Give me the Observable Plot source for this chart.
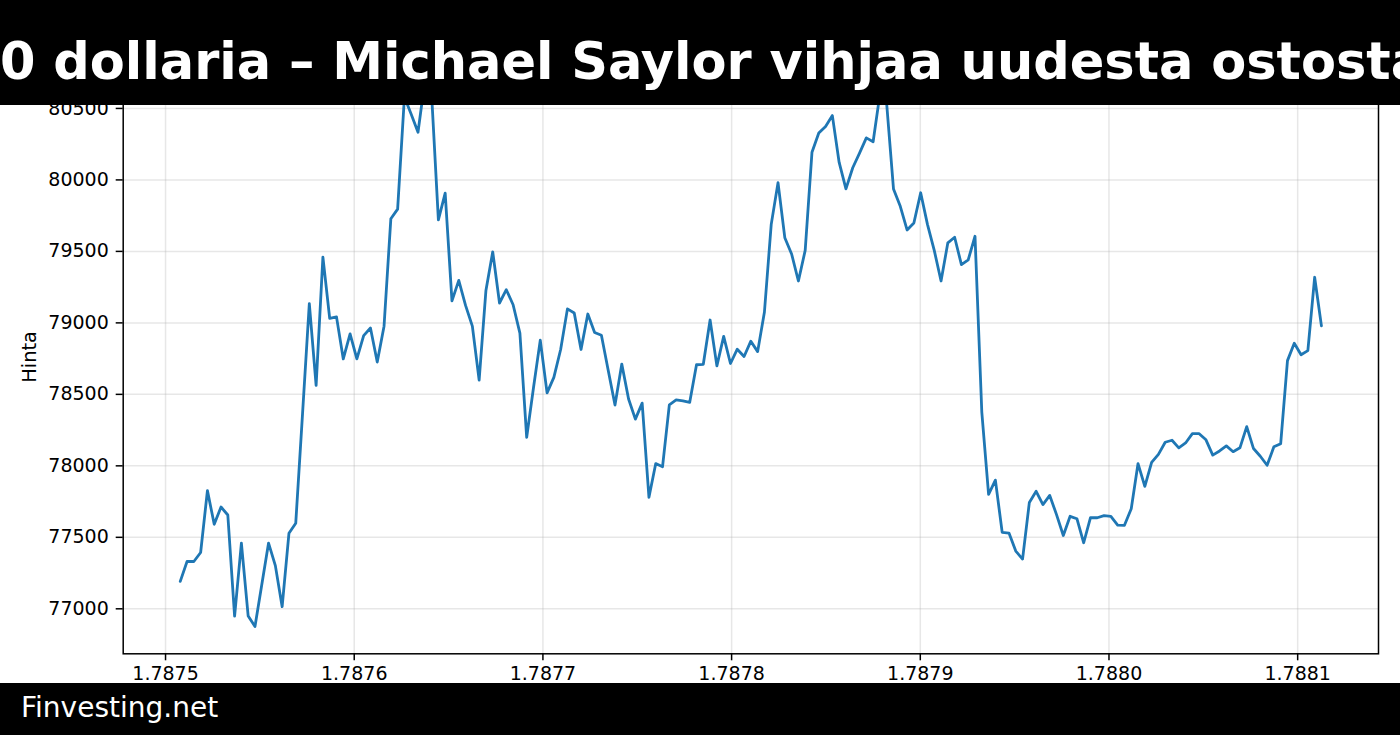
<!DOCTYPE html>
<html>
<head>
<meta charset="utf-8">
<script src="https://cdn.jsdelivr.net/npm/d3@7"></script>
<script src="https://cdn.jsdelivr.net/npm/@observablehq/plot@0.6"></script>
<style>
html, body { margin: 0; padding: 0; background: #fff; }
#wrap { position: relative; width: 1400px; height: 735px; overflow: hidden; background: #fff; font-family: "DejaVu Sans", sans-serif; }
#chart { position: absolute; left: 0; top: 0; }
#title { position: absolute; left: 0; top: 0; width: 1400px; height: 105px; background: #000; overflow: hidden; }
#title span { position: absolute; left: 0; top: 36px; white-space: nowrap; color: #fff; font-weight: bold; font-size: 51px; line-height: 1; }
#footer { position: absolute; left: 0; top: 683px; width: 1400px; height: 52px; background: #000; overflow: hidden; }
#footer span { position: absolute; left: 21px; top: 11px; white-space: nowrap; color: #fff; font-size: 28px; line-height: 1; }
</style>
</head>
<body>
<div id="wrap">
  <div id="chart"></div>
  <div id="title"><span id="titleText"></span></div>
  <div id="footer"><span id="footerText"></span></div>
</div>
<script>
const titleText = "0 dollaria – Michael Saylor vihjaa uudesta ostosta";
const footerText = "Finvesting.net";
const yLabel = "Hinta";

// hourly timestamps (seconds), first sample and step
const startTime = 1787507800;
const stepSeconds = 3600;

const prices = [
  77192, 77331, 77331, 77394, 77827, 77591, 77712, 77656, 76949, 77460,
  76949, 76876, 77168, 77460, 77302, 77015, 77528, 77598, 78364, 79135,
  78563, 79460, 79032, 79042, 78748, 78923, 78748, 78911, 78964, 78726,
  78977, 79728, 79796, 80580, 80460, 80333, 80690, 80600, 79720, 79908,
  79154, 79297, 79122, 78977, 78600, 79227, 79497, 79139, 79232, 79127,
  78928, 78199, 78546, 78879, 78510, 78619, 78814, 79098, 79069, 78814,
  79062, 78933, 78913, 78668, 78425, 78712, 78468, 78327, 78439, 77780,
  78016, 77994, 78427, 78461, 78454, 78444, 78707, 78710, 79020, 78699,
  78906, 78716, 78816, 78765, 78872, 78799, 79076, 79689, 79981, 79596,
  79482, 79293, 79507, 80194, 80328, 80374, 80450, 80122, 79937, 80085,
  80187, 80294, 80267, 80600, 80530, 79937, 79815, 79650, 79699, 79910,
  79689, 79507, 79293, 79560, 79599, 79407, 79441, 79606, 78376, 77800,
  77900, 77535, 77530, 77404, 77348, 77744, 77822, 77729, 77793, 77659,
  77513, 77647, 77630, 77462, 77637, 77637, 77652, 77647, 77586, 77584,
  77700, 78016, 77856, 78024, 78080, 78165, 78179, 78126, 78160, 78225,
  78225, 78182, 78075, 78104, 78140, 78099, 78126, 78274, 78121, 78067,
  78004, 78133, 78155, 78736, 78857, 78777, 78806, 79319, 78979
];

const xTicks = [1787500000, 1787600000, 1787700000, 1787800000, 1787900000, 1788000000, 1788100000];
const yTicks = [77000, 77500, 78000, 78500, 79000, 79500, 80000, 80500];

document.getElementById("titleText").textContent = titleText;
document.getElementById("footerText").textContent = footerText;

const data = prices.map((p, i) => ({t: startTime + i * stepSeconds, p}));
const [t0, t1] = d3.extent(data, d => d.t);
const [p0, p1] = d3.extent(prices);
const padX = (t1 - t0) * 0.05, padY = (p1 - p0) * 0.05;

const gridStyle = {stroke: "#b0b0b0", strokeOpacity: 0.3, strokeWidth: 1.5};

const chart = Plot.plot({
  width: 1400,
  height: 735,
  marginLeft: 122.7,
  marginRight: 22,
  marginTop: 53.5,
  marginBottom: 81.7,
  style: {fontFamily: "DejaVu Sans, sans-serif", fontSize: "19px", color: "#000", background: "transparent"},
  x: {domain: [t0 - padX, t1 + padX]},
  y: {domain: [p0 - padY, p1 + padY]},
  marks: [
    Plot.gridX(xTicks, gridStyle),
    Plot.gridY(yTicks, gridStyle),
    Plot.line(data, {x: "t", y: "p", stroke: "#1f77b4", strokeWidth: 2.8}),
    Plot.frame({stroke: "#000", strokeWidth: 1.5}),
    Plot.axisX(xTicks, {tickFormat: d => (d / 1e9).toFixed(4), tickSize: 7, tickPadding: 6, strokeWidth: 1.5, label: null, fontSize: 19}),
    Plot.axisY(yTicks, {tickFormat: d => String(d), tickSize: 7, tickPadding: 7.4, strokeWidth: 1.5, label: null, fontSize: 19}),
    Plot.text([yLabel], {frameAnchor: "left", textAnchor: "middle", dx: -93, dy: 3, rotate: -90, fontSize: 19.4, fill: "#000"})
  ]
});
document.getElementById("chart").appendChild(chart);
</script>
</body>
</html>
